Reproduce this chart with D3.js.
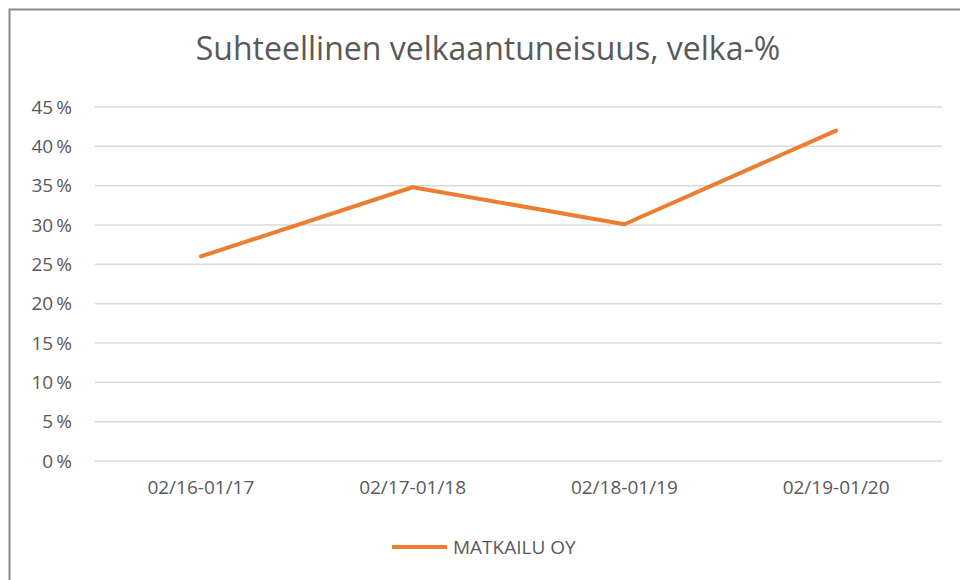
<!DOCTYPE html>
<html>
<head>
<meta charset="utf-8">
<script src="https://cdn.jsdelivr.net/npm/d3@7"></script>
<style>
  body { margin: 0; background: #fff; }
  svg { display: block; }
  text { font-family: "Open Sans", sans-serif; fill: #595959; }
</style>
</head>
<body>
<svg id="chart"></svg>
<script>
// Data
var periods = ["02/16-01/17", "02/17-01/18", "02/18-01/19", "02/19-01/20"];
var velka = [26, 34.8, 30.1, 42];
var yTicks = [0, 5, 10, 15, 20, 25, 30, 35, 40, 45];
var seriesName = "MATKAILU OY";
var title = "Suhteellinen velkaantuneisuus, velka-%";

// SVG size params
var width = 960;
var height = 580;
var margin = {top: 107, right: 18, bottom: 119, left: 95};

var svg = d3.select("#chart")
    .attr("width", width)
    .attr("height", height);

// Chart frame (right/bottom edges cropped off)
svg.append("rect")
    .attr("x", 9.5)
    .attr("y", 9.5)
    .attr("width", 1000)
    .attr("height", 1000)
    .attr("fill", "none")
    .attr("stroke", "#8a8a8a")
    .attr("stroke-width", 2);

// Title
svg.append("text")
    .attr("x", 488)
    .attr("y", 60)
    .attr("text-anchor", "middle")
    .attr("font-size", 32)
    .text(title);

var g = svg.append("g")
    .attr("transform", "translate(" + margin.left + "," + margin.top + ")");

var w = width - margin.left - margin.right;
var h = height - margin.top - margin.bottom;

// Scales
var x = d3.scaleBand()
    .domain(periods)
    .range([0, w]);

var y = d3.scaleLinear()
    .domain([0, 45])
    .range([h, 0]);

// Gridlines
g.selectAll(".grid")
    .data(yTicks)
  .enter().append("line")
    .attr("class", "grid")
    .attr("x1", 0)
    .attr("x2", w)
    .attr("y1", function(d) { return y(d); })
    .attr("y2", function(d) { return y(d); })
    .attr("stroke", "#d9d9d9")
    .attr("stroke-width", 1.5);

// Y axis
var yAxis = g.append("g")
    .call(d3.axisLeft(y).tickValues(yTicks).tickSize(0).tickPadding(23)
      .tickFormat(function(d) { return d + "\u2009%"; }));
yAxis.select(".domain").remove();
yAxis.selectAll("text")
    .attr("font-size", 19)
    .style("font-family", "'Open Sans', sans-serif")
    .attr("fill", "#595959");

// X axis
var xAxis = g.append("g")
    .attr("transform", "translate(0," + h + ")")
    .call(d3.axisBottom(x).tickSize(0).tickPadding(20));
xAxis.select(".domain").remove();
xAxis.selectAll("text")
    .attr("font-size", 19)
    .style("font-family", "'Open Sans', sans-serif")
    .attr("fill", "#595959");

// Line
var line = d3.line()
    .x(function(d, i) { return x(periods[i]) + x.bandwidth() / 2; })
    .y(function(d) { return y(d); });

g.append("path")
    .datum(velka)
    .attr("d", line)
    .attr("fill", "none")
    .attr("stroke", "#ed7d31")
    .attr("stroke-width", 4)
    .attr("stroke-linecap", "round")
    .attr("stroke-linejoin", "round");

// Legend
var legend = svg.append("g")
    .attr("transform", "translate(392,547)");
legend.append("line")
    .attr("x1", 0)
    .attr("x2", 55)
    .attr("stroke", "#ed7d31")
    .attr("stroke-width", 4);
legend.append("text")
    .attr("x", 61)
    .attr("dy", "0.35em")
    .attr("font-size", 19)
    .text(seriesName);
</script>
</body>
</html>
